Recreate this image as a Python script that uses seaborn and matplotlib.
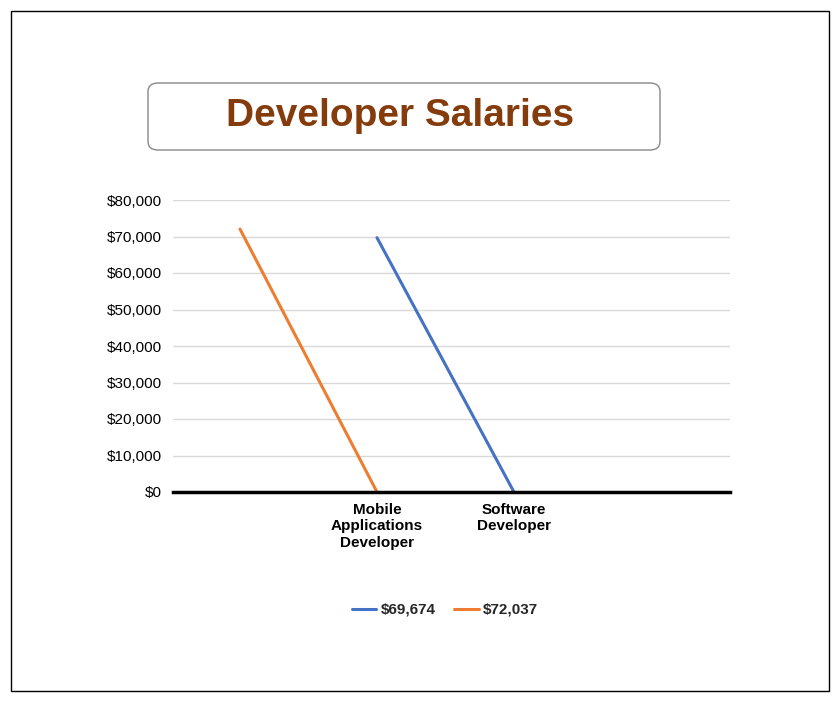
import numpy as np
import pandas as pd
import seaborn as sns
import matplotlib.pyplot as plt
from matplotlib.patches import FancyBboxPatch, Rectangle
from matplotlib.lines import Line2D

categories = ["", "Mobile\nApplications\nDeveloper", "Software\nDeveloper", ""]
blue_vals = [np.nan, 69674, 0, np.nan]
orange_vals = [72037, 0, np.nan, np.nan]

sns.set_theme(style="white")
plt.rcParams['font.family'] = ['Liberation Sans', 'DejaVu Sans']

fig = plt.figure(figsize=(8.4, 7.04), dpi=100)
fig.patches.append(Rectangle((11/840, 1-691/704), 818/840, 680/704, transform=fig.transFigure,
                             fill=False, edgecolor='black', linewidth=1))
ax = fig.add_axes([173/840, 1-492/704, 557/840, 292/704])

x = np.arange(len(categories))
df = pd.DataFrame({'pos': np.concatenate([x, x]),
                   'val': blue_vals + orange_vals,
                   'series': ['$69,674'] * 4 + ['$72,037'] * 4})
sns.lineplot(data=df, x='pos', y='val', hue='series',
             palette=['#4472C4', '#ED7D31'], linewidth=2.2, ax=ax, legend=False)

ax.set_xlim(-0.489, 3.577)
ax.set_ylim(0, 80000)
ax.set_yticks(range(0, 80001, 10000))
ax.set_yticklabels([f"${v:,}" for v in range(0, 80001, 10000)], fontsize=11, color='black')
ax.set_xticks(x)
ax.set_xticklabels(categories, fontsize=11, fontweight='bold', color='black')
ax.tick_params(axis='both', length=0, pad=8)
ax.grid(axis='y', color='#d9d9d9', linewidth=1)
ax.set_xlabel('')
ax.set_ylabel('')
for s in ['top', 'right', 'left']:
    ax.spines[s].set_visible(False)
ax.spines['bottom'].set_color('black')
ax.spines['bottom'].set_linewidth(2.5)

# title box
fig.patches.append(FancyBboxPatch((148/840, 1-150/704), 512/840, 67/704,
                                  boxstyle="round,pad=0,rounding_size=0.012",
                                  transform=fig.transFigure, facecolor='white',
                                  edgecolor='#888888', linewidth=1))
fig.text(400/840, 1-116/704, "Developer Salaries", ha='center', va='center',
         fontsize=28, fontweight='bold', color='#843C0C')

# legend
handles = [Line2D([], [], color='#4472C4', lw=2.2), Line2D([], [], color='#ED7D31', lw=2.2)]
fig.legend(handles, ['$69,674', '$72,037'], loc='center', bbox_to_anchor=(445/840, 1-610/704),
           ncol=2, frameon=False, prop={'weight': 'bold', 'size': 11},
           handlelength=1.6, columnspacing=1.2, handletextpad=0.3)

fig.savefig('out.png', dpi=100)
